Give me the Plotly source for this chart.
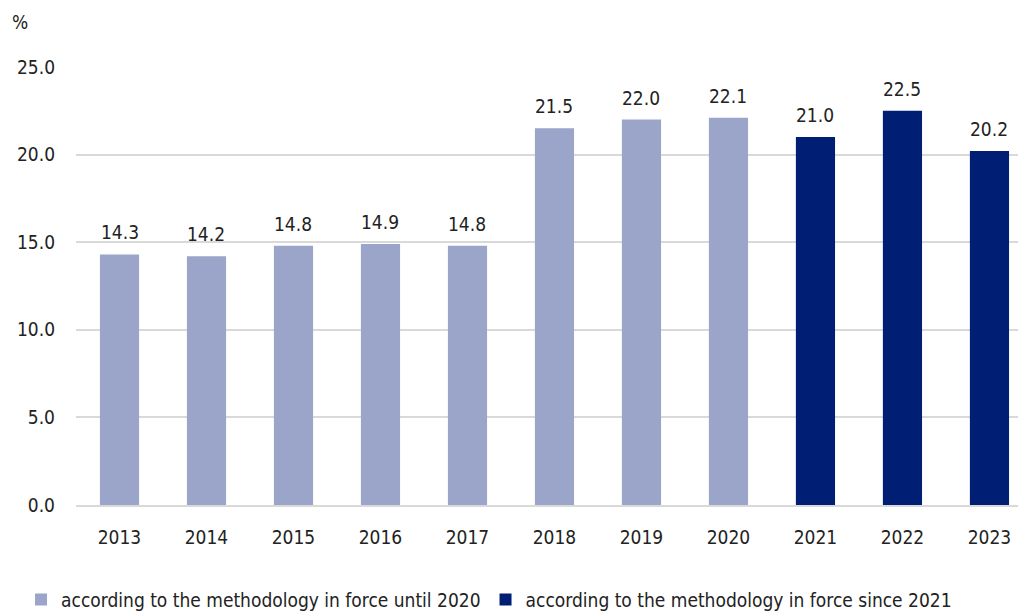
import plotly.graph_objects as go

years_old = ["2013", "2014", "2015", "2016", "2017", "2018", "2019", "2020"]
values_old = [14.3, 14.2, 14.8, 14.9, 14.8, 21.5, 22.0, 22.1]
years_new = ["2021", "2022", "2023"]
values_new = [21.0, 22.5, 20.2]
all_years = years_old + years_new
name_old = "according to the methodology in force until 2020"
name_new = "according to the methodology in force since 2021"

FONT = "DejaVu Sans Condensed, Liberation Sans Narrow, Roboto, sans-serif"
C_OLD = "#9BA5C9"
C_NEW = "#001E73"
TXT = "#222222"

fig = go.Figure()
fig.add_trace(go.Bar(
    x=years_old, y=values_old, name=name_old,
    marker=dict(color=C_OLD, line=dict(width=0)), width=0.45,
))
fig.add_trace(go.Bar(
    x=years_new, y=values_new, name=name_new,
    marker=dict(color=C_NEW, line=dict(width=0)), width=0.45,
))

annotations = []
for xs, ys in ((years_old, values_old), (years_new, values_new)):
    for xv, yv in zip(xs, ys):
        annotations.append(dict(
            x=all_years.index(xv), y=yv, xref="x", yref="y",
            text=f"{yv:.1f}",
            showarrow=False, xanchor="center", yanchor="bottom", yshift=9,
            font=dict(size=19, family=FONT, color=TXT),
        ))
annotations.append(dict(
    text="%", xref="paper", yref="paper", x=-0.069, y=1.103,
    xanchor="left", yanchor="middle", showarrow=False,
    font=dict(size=19, family=FONT, color=TXT),
))

fig.update_layout(
    width=1026, height=613,
    margin=dict(l=68, r=8, t=59, b=116, autoexpand=False),
    paper_bgcolor="white", plot_bgcolor="white",
    barmode="overlay",
    font=dict(family=FONT, size=19, color=TXT),
    xaxis=dict(
        type="category", categoryorder="array", categoryarray=all_years,
        range=[-0.5, 10.42], showgrid=False, showline=True,
        linecolor="#d9d9d9", linewidth=2, ticks="", ticklabelstandoff=14,
        tickangle=0, automargin=False,
        tickfont=dict(size=19, family=FONT, color=TXT),
    ),
    yaxis=dict(
        range=[0, 25], dtick=5, tickformat=".1f", showgrid=True,
        gridcolor="#d9d9d9", gridwidth=2, zeroline=False,
        ticks="", ticklabelstandoff=20, automargin=False,
        tickfont=dict(size=19, family=FONT, color=TXT),
    ),
    legend=dict(
        orientation="h", x=0.0127, xref="container", xanchor="left",
        y=0.035, yref="container", yanchor="middle",
        font=dict(size=19, family=FONT, color=TXT),
        itemwidth=30, tracegroupgap=0,
    ),
    annotations=annotations,
)

fig.write_html("out.html")
